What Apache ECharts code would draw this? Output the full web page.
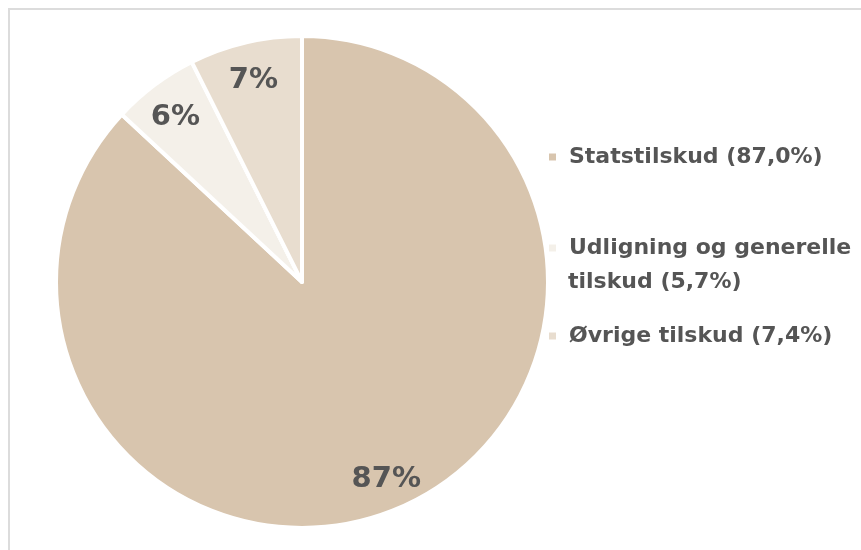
<!DOCTYPE html>
<html>
<head>
<meta charset="utf-8">
<script src="https://cdn.jsdelivr.net/npm/echarts@6/dist/echarts.min.js"></script>
<style>
html,body{margin:0;padding:0;background:#fff;}
#frame{position:absolute;left:8px;top:8px;width:853px;height:542px;border-left:2px solid #dcdcdc;border-top:2px solid #dcdcdc;}
#chart{position:absolute;left:0;top:0;width:861px;height:550px;}
</style>
</head>
<body>
<div id="frame"></div>
<div id="chart"></div>
<script>
const categories = ['Statstilskud', 'Udligning og generelle tilskud', 'Øvrige tilskud'];
const values = [87.0, 5.7, 7.4];
const colors = ['#d8c5ae', '#f4f0e9', '#e8ddcf'];

const chart = echarts.init(document.getElementById('chart'), null, {renderer: 'canvas'});
const data = categories.map((c, i) => ({name: c, value: values[i], itemStyle: {color: colors[i]}}));
const fmtPct = v => v.toFixed(1).replace('.', ',') + '%';
const legendText = {fontFamily: 'DejaVu Sans', fontWeight: 'bold', fontSize: 22, color: '#555555', padding: [0, 0, 0, 7]};
const legendBase = {orient: 'vertical', left: 547, padding: 0, icon: 'rect', itemWidth: 9, itemHeight: 9, selectedMode: false, textStyle: legendText};

chart.setOption({
  animation: false,
  legend: [
    Object.assign({}, legendBase, {data: [categories[0]], top: 146, formatter: n => n + ' (' + fmtPct(values[0]) + ')'}),
    Object.assign({}, legendBase, {data: [categories[1]], top: 237, formatter: () => 'Udligning og generelle'}),
    Object.assign({}, legendBase, {data: [categories[2]], top: 325, formatter: n => n + ' (' + fmtPct(values[2]) + ')'})
  ],
  graphic: [{
    type: 'text', left: 568, top: 271,
    style: {text: 'tilskud (' + fmtPct(values[1]) + ')', font: 'bold 22px "DejaVu Sans"', fill: '#555555'}
  }],
  series: [{
    type: 'pie',
    center: [302, 282],
    radius: [0, 246],
    startAngle: 90,
    clockwise: true,
    silent: true,
    itemStyle: {borderColor: '#ffffff', borderWidth: 4},
    label: {show: false},
    labelLine: {show: false},
    data: data
  }, {
    type: 'pie',
    center: [302, 282],
    radius: [170, 246],
    startAngle: 90,
    clockwise: true,
    silent: true,
    itemStyle: {color: 'rgba(0,0,0,0)', borderWidth: 0},
    label: {
      show: true, position: 'inside',
      formatter: p => Math.round(p.value) + '%',
      fontFamily: 'DejaVu Sans', fontWeight: 'bold', fontSize: 29, color: '#555555'
    },
    labelLayout: {dy: 4},
    labelLine: {show: false},
    data: categories.map((c, i) => ({name: c, value: values[i]}))
  }]
});
</script>
</body>
</html>
